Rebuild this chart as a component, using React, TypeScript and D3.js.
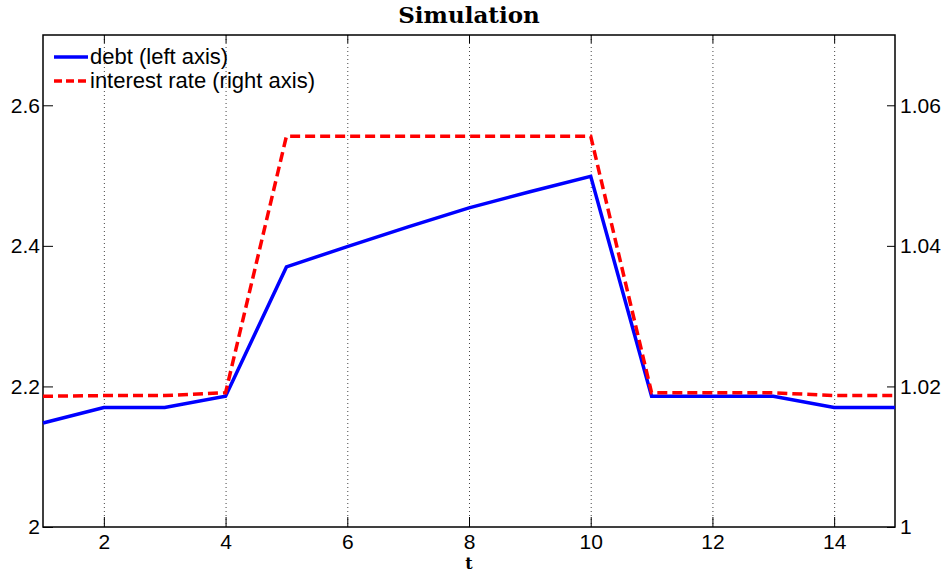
import React, { useEffect, useRef } from 'react';
import * as d3 from 'd3';

// data
const periods = [1, 2, 3, 4, 5, 6, 7, 8, 9, 10, 11, 12, 13, 14, 15];
const debt = [2.148, 2.17, 2.17, 2.186, 2.37, 2.399, 2.427, 2.454, 2.477, 2.499, 2.186, 2.186, 2.186, 2.17, 2.17];
const interestRate = [1.0186, 1.0187, 1.0187, 1.0191, 1.0556, 1.0556, 1.0556, 1.0556, 1.0556, 1.0556, 1.0191, 1.0191, 1.0191, 1.0187, 1.0187];
const xTicks = [2, 4, 6, 8, 10, 12, 14];
const leftTicks = [2, 2.2, 2.4, 2.6];
const rightTicks = [1, 1.02, 1.04, 1.06];

const W = 945;
const H = 573;

const App = () => {
  const ref = useRef<SVGSVGElement>(null);

  useEffect(() => {
    const svg = d3.select(ref.current);
    svg.selectAll('*').remove();

    const margin = { top: 35, right: 50, bottom: 46, left: 43 };
    const x = d3.scaleLinear().domain([1, 15]).range([margin.left, W - margin.right]);
    const yL = d3.scaleLinear().domain([2, 2.7]).range([H - margin.bottom, margin.top]);
    const yR = d3.scaleLinear().domain([1, 1.07]).range([H - margin.bottom, margin.top]);
    const font = '"Liberation Sans", Arial, sans-serif';

    svg.append('rect').attr('width', W).attr('height', H).attr('fill', 'white');

    // vertical dotted grid
    svg.append('g')
      .selectAll('line')
      .data(xTicks)
      .join('line')
      .attr('x1', d => x(d) + 0.5)
      .attr('x2', d => x(d) + 0.5)
      .attr('y1', margin.top)
      .attr('y2', H - margin.bottom)
      .attr('stroke', '#444')
      .attr('stroke-width', 1)
      .attr('stroke-dasharray', '1,3');

    // bottom axis, ticks inside
    svg.append('g')
      .attr('transform', `translate(0,${H - margin.bottom})`)
      .call(d3.axisBottom(x).tickValues(xTicks).tickSize(-10).tickPadding(7).tickSizeOuter(0).tickFormat(d3.format('d')))
      .call(g => g.select('.domain').remove())
      .call(g => g.selectAll('text').attr('font-family', font).attr('font-size', 21).attr('fill', '#000'));

    // top ticks
    svg.append('g')
      .attr('transform', `translate(0,${margin.top})`)
      .call(d3.axisTop(x).tickValues(xTicks).tickSize(-8).tickFormat(() => '').tickSizeOuter(0))
      .call(g => g.select('.domain').remove());

    // left axis
    svg.append('g')
      .attr('transform', `translate(${margin.left},0)`)
      .call(d3.axisLeft(yL).tickValues(leftTicks).tickSize(-10).tickPadding(3).tickSizeOuter(0).tickFormat(d => (d === 2 ? '2' : d3.format('.1f')(d as number))))
      .call(g => g.select('.domain').remove())
      .call(g => g.selectAll('text').attr('font-family', font).attr('font-size', 21).attr('fill', '#000'));

    // right axis
    svg.append('g')
      .attr('transform', `translate(${W - margin.right},0)`)
      .call(d3.axisRight(yR).tickValues(rightTicks).tickSize(-8).tickPadding(5).tickSizeOuter(0).tickFormat(d => (d === 1 ? '1' : d3.format('.2f')(d as number))))
      .call(g => g.select('.domain').remove())
      .call(g => g.selectAll('text').attr('font-family', font).attr('font-size', 21).attr('fill', '#000'));

    // frame
    svg.append('rect')
      .attr('x', margin.left)
      .attr('y', margin.top)
      .attr('width', W - margin.left - margin.right)
      .attr('height', H - margin.top - margin.bottom)
      .attr('fill', 'none')
      .attr('stroke', '#000')
      .attr('stroke-width', 1.5);

    const debtLine = d3.line<number>().x((_, i) => x(periods[i])).y(d => yL(d));
    const rateLine = d3.line<number>().x((_, i) => x(periods[i])).y(d => yR(d));

    svg.append('path')
      .datum(debt)
      .attr('d', debtLine)
      .attr('fill', 'none')
      .attr('stroke', '#0000ff')
      .attr('stroke-width', 3.5);

    svg.append('path')
      .datum(interestRate)
      .attr('d', rateLine)
      .attr('fill', 'none')
      .attr('stroke', '#ff0000')
      .attr('stroke-width', 3.5)
      .attr('stroke-dasharray', '10,5');

    // legend
    const legend = svg.append('g').attr('transform', `translate(${margin.left + 11},0)`);
    const items = [
      { label: 'debt (left axis)', color: '#0000ff', dash: null, y: 57 },
      { label: 'interest rate (right axis)', color: '#ff0000', dash: '8,4', y: 81 },
    ];
    items.forEach(it => {
      legend.append('line')
        .attr('x1', 0).attr('x2', 34)
        .attr('y1', it.y).attr('y2', it.y)
        .attr('stroke', it.color)
        .attr('stroke-width', 3.5)
        .attr('stroke-dasharray', it.dash);
      legend.append('text')
        .attr('x', 36)
        .attr('y', it.y + 7)
        .attr('font-family', font)
        .attr('font-size', 22)
        .text(it.label);
    });

    // title and x label
    svg.append('text')
      .attr('x', (margin.left + W - margin.right) / 2)
      .attr('y', 23)
      .attr('text-anchor', 'middle')
      .attr('font-family', '"DejaVu Serif", serif')
      .attr('font-weight', 'bold')
      .attr('font-size', 23)
      .text('Simulation');

    svg.append('text')
      .attr('x', (margin.left + W - margin.right) / 2)
      .attr('y', 569)
      .attr('text-anchor', 'middle')
      .attr('font-family', '"DejaVu Serif", serif')
      .attr('font-weight', 'bold')
      .attr('font-size', 16)
      .text('t');
  }, []);

  return (
    <svg ref={ref} width={W} height={H} style={{ display: 'block', position: 'absolute', left: 0, top: 0 }} />
  );
};

export default App;
